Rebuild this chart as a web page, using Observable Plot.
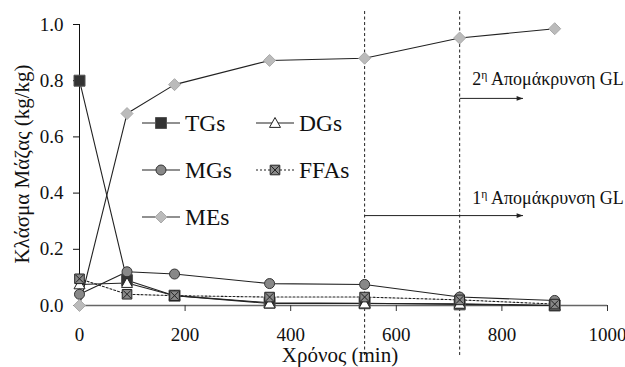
<!DOCTYPE html>
<html><head><meta charset="utf-8">
<script src="https://cdn.jsdelivr.net/npm/d3@7"></script>
<script src="https://cdn.jsdelivr.net/npm/@observablehq/plot@0.6"></script>
<style>
html,body{margin:0;padding:0;background:#fff}
svg{display:block}
svg, svg text{font-family:"Liberation Serif","Times New Roman",Times,serif;}
</style>
</head><body><div id="chart"></div>
<script>
// ---- data ----
const time = [0, 90, 180, 360, 540, 720, 900];
const TGs  = [0.80, 0.09, 0.035, 0.010, 0.008, 0.004, 0.000];
const DGs  = [0.075, 0.08, 0.035, 0.007, 0.007, 0.006, 0.000];
const MGs  = [0.04, 0.12, 0.112, 0.078, 0.075, 0.030, 0.018];
const FFAs = [0.095, 0.04, 0.035, 0.030, 0.030, 0.020, 0.005];
const MEs  = [0.000, 0.683, 0.786, 0.872, 0.880, 0.952, 0.985];
const seriesNames = ["TGs", "DGs", "MGs", "FFAs", "MEs"];
const seriesValues = [TGs, DGs, MGs, FFAs, MEs];
const glRemovalTimes = [540, 720];
const glRemovalLabels = ["1η Απομάκρυνση GL", "2η Απομάκρυνση GL"];
const xTicks = [0, 200, 400, 600, 800, 1000];
const yTicks = [0, 0.2, 0.4, 0.6, 0.8, 1.0];
const xLabel = "Χρόνος (min)";
const yLabel = "Κλάσμα Μάζας (kg/kg)";

// ---- symbols ----
const rOf = s => Math.sqrt(s / Math.PI);
const symSquare = {draw(c, s){const r=rOf(s); c.moveTo(-r,-r); c.lineTo(r,-r); c.lineTo(r,r); c.lineTo(-r,r); c.closePath();}};
const symDiamond = {draw(c, s){const r=rOf(s); c.moveTo(0,-r); c.lineTo(r,0); c.lineTo(0,r); c.lineTo(-r,0); c.closePath();}};
const symTriangle = {draw(c, s){const r=rOf(s); c.moveTo(0,-r); c.lineTo(r,r*0.8); c.lineTo(-r,r*0.8); c.closePath();}};
const symCircle = {draw(c, s){const r=rOf(s); c.moveTo(r,0); c.arc(0,0,r,0,2*Math.PI); c.closePath();}};
const symSquareX = {draw(c, s){const r=rOf(s); c.moveTo(-r,-r); c.lineTo(r,-r); c.lineTo(r,r); c.lineTo(-r,r); c.closePath();
  const q=r*0.8; c.moveTo(-q,-q); c.lineTo(q,q); c.moveTo(q,-q); c.lineTo(-q,q);}};
const symArrowHead = {draw(c, s){const r=rOf(s); c.moveTo(0,0); c.lineTo(-2*r,-r*0.75); c.lineTo(-2*r,r*0.75); c.closePath();}};

const style = {
  TGs:  {symbol: symSquare,   r: 5.5, fill: "#333", stroke: "#555", dash: null},
  DGs:  {symbol: symTriangle, r: 5.5, fill: "#fff", stroke: "#222", dash: null},
  MGs:  {symbol: symCircle,   r: 5,   fill: "#888", stroke: "#333", dash: null},
  FFAs: {symbol: symSquareX,  r: 4.8, fill: "#888", stroke: "#222", dash: "2,2"},
  MEs:  {symbol: symDiamond,  r: 6,   fill: "#bbb", stroke: "#aaa", dash: null}
};

const rows = seriesNames.flatMap((name, i) => time.map((t, j) => ({series: name, t, v: seriesValues[i][j]})));

const lineMarks = seriesNames.map(name => Plot.line(rows.filter(d => d.series === name), {
  x: "t", y: "v", stroke: "#222", strokeWidth: 1.1, strokeDasharray: style[name].dash
}));
const dotMarks = seriesNames.map(name => Plot.dot(rows.filter(d => d.series === name), {
  x: "t", y: "v", r: style[name].r, symbol: style[name].symbol, fill: style[name].fill, stroke: style[name].stroke, strokeWidth: 1
}));

const arrows = [
  {x1: glRemovalTimes[0], x2: 840, y: 0.32, ty: 0.38, label: glRemovalLabels[0]},
  {x1: glRemovalTimes[1], x2: 840, y: 0.737, ty: 0.805, label: glRemovalLabels[1]}
];

const chart = Plot.plot({
  width: 625, height: 367,
  marginLeft: 79, marginRight: 18, marginTop: 24, marginBottom: 62,
  style: {fontFamily: "'Liberation Serif', 'Times New Roman', serif", fontSize: "19px", color: "#111", background: "#fff"},
  x: {domain: [0, 1000]},
  y: {domain: [0, 1]},
  marks: [
    Plot.ruleX(glRemovalTimes, {y1: -0.178, y2: 1.05, stroke: "#222", strokeWidth: 1, strokeDasharray: "3,2.5"}),
    Plot.ruleY([0], {stroke: "#666", strokeWidth: 1.3}),
    Plot.ruleX([0], {stroke: "#111", strokeWidth: 1}),
    Plot.axisX({ticks: xTicks, tickFormat: d3.format("d"), tickSize: 6, tickPadding: 16, label: null, stroke: "#333", fontSize: 19}),
    Plot.axisY({ticks: yTicks, tickFormat: d3.format(".1f"), tickSize: 6, tickPadding: 10, label: null, stroke: "#111", fontSize: 19}),
    ...lineMarks,
    ...dotMarks,
    Plot.link(arrows, {x1: "x1", x2: "x2", y1: "y", y2: "y", stroke: "#222", strokeWidth: 1}),
    Plot.dot(arrows, {x: "x2", y: "y", symbol: symArrowHead, r: 3.2, fill: "#222", stroke: "none"}),
    Plot.text(arrows, {x: 744, y: "ty", text: "label", textAnchor: "start", fontSize: 18, fill: "#111"})
  ]
});
document.getElementById("chart").appendChild(chart);

const svg = d3.select(chart);
// superscript η in labels
svg.selectAll("text").filter(function(){ return /η Απομάκρυνση/.test(this.textContent) && this.children.length === 0; })
  .each(function(){
    const t = this.textContent; const sel = d3.select(this); sel.text(null);
    sel.append("tspan").text(t.slice(0,1));
    sel.append("tspan").attr("baseline-shift", "super").attr("font-size", "65%").text("η");
    sel.append("tspan").text(t.slice(2));
  });

// axis titles
svg.append("text").attr("x", 340).attr("y", 362).attr("text-anchor", "middle")
  .style("font-size", "21px").attr("fill", "#111").text(xLabel);
svg.append("text").attr("transform", "translate(22,164) rotate(-90)").attr("text-anchor", "middle")
  .attr("dominant-baseline", "central").style("font-size", "21px").attr("fill", "#111").text(yLabel);

// legend
const leg = svg.append("g").attr("class", "legend");
const legendOrder = ["TGs", "DGs", "MGs", "FFAs", "MEs"];
legendOrder.forEach((name, i) => {
  const x0 = 142 + (i % 2) * 114, y0 = 123 + Math.floor(i / 2) * 47;
  const st = style[name];
  leg.append("line").attr("x1", x0).attr("x2", x0 + 38).attr("y1", y0).attr("y2", y0)
    .attr("stroke", "#222").attr("stroke-width", 1.1).attr("stroke-dasharray", st.dash);
  leg.append("path").attr("transform", `translate(${x0 + 19},${y0})`)
    .attr("d", d3.symbol(st.symbol, Math.PI * st.r * st.r)()).attr("fill", st.fill).attr("stroke", st.stroke);
  leg.append("text").attr("x", x0 + 43).attr("y", y0).attr("text-anchor", "start").attr("dominant-baseline", "central")
    .style("font-size", "23.5px").attr("fill", "#111").text(name);
});
</script></body></html>
